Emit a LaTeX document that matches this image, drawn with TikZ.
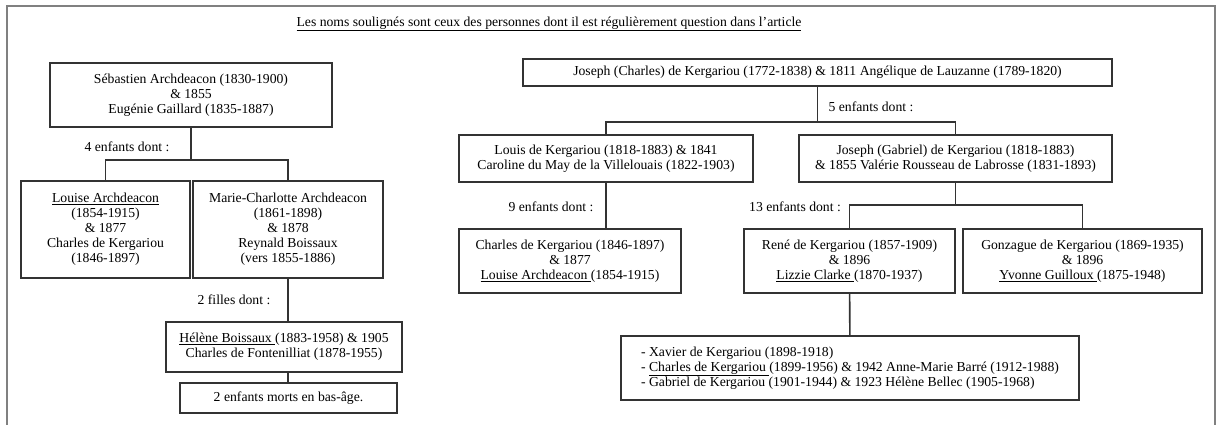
\documentclass[tikz,border=0pt]{standalone}
\usepackage{fontspec}
\setmainfont{Liberation Serif}
\usepackage{tikz}
\usetikzlibrary{calc}

\begin{document}
\begin{tikzpicture}[x=1pt, y=-1pt, line cap=rect, line join=miter, font=\fontsize{13.7}{15}\selectfont,
  box/.style={draw=black!80, line width=1.6pt, align=center, inner sep=0pt, fill=white},
  link/.style={draw=black!80, line width=1.6pt}]
\useasboundingbox (0,0) rectangle (1218,424);
\draw[gray, line width=2pt] (7,430) -- (7,6) -- (1215,6) -- (1215,430);
\node (title) at (549,24) {\underline{Les noms soulignés sont ceux des personnes dont il est régulièrement question dans l’article}};
% Archdeacon side
\node[box, minimum width=282, minimum height=64] (S) at (191,95) {Sébastien Archdeacon (1830-1900)\\ \& 1855\\ Eugénie Gaillard (1835-1887)};
\node[box, minimum width=169, minimum height=97] (L) at (105.5,229.5) {\underline{Louise Archdeacon}\\ (1854-1915)\\ \& 1877\\ Charles de Kergariou\\ (1846-1897)};
\node[box, minimum width=190, minimum height=97] (MC) at (288,229.5) {Marie-Charlotte Archdeacon\\ (1861-1898)\\ \& 1878\\ Reynald Boissaux\\ (vers 1855-1886)};
\node[box, minimum width=236, minimum height=50] (H) at (284,347) {\underline{Hélène Boissaux\ }(1883-1958) \& 1905\\ Charles de Fontenilliat (1878-1955)};
\node[box, minimum width=217, minimum height=30] (E) at (288.5,398) {2 enfants morts en bas-âge.};
\node (n4) at (127,147) {4 enfants dont :};
\node (n2) at (234,300) {2 filles dont :};
\coordinate (sj) at (191,160);
\draw[link] (S) -- (sj); \draw[link] (L.north) |- (sj) -| (MC.north);
\draw[link] (MC.south) -- (MC.south |- H.north);
\draw[link] (MC.south |- H.south) -- (MC.south |- E.north);
% Kergariou side
\node[box, minimum width=589, minimum height=27] (J) at (817.5,72.5) {Joseph (Charles) de Kergariou (1772-1838) \& 1811 Angélique de Lauzanne (1789-1820)};
\node[box, minimum width=294, minimum height=47] (LK) at (606,158.5) {Louis de Kergariou (1818-1883) \& 1841\\ Caroline du May de la Villelouais (1822-1903)};
\node[box, minimum width=313, minimum height=47] (JG) at (955.5,158.5) {Joseph (Gabriel) de Kergariou (1818-1883)\\ \& 1855 Valérie Rousseau de Labrosse (1831-1893)};
\node[box, minimum width=222, minimum height=64] (CK) at (570,261) {Charles de Kergariou (1846-1897)\\ \& 1877\\ \underline{Louise Archdeacon\ }(1854-1915)};
\node[box, minimum width=211, minimum height=64] (RK) at (849.5,261) {René de Kergariou (1857-1909)\\ \& 1896\\ \underline{Lizzie Clarke\ }(1870-1937)};
\node[box, minimum width=239, minimum height=64] (GK) at (1082.5,261) {Gonzague de Kergariou (1869-1935)\\ \& 1896\\ \underline{Yvonne Guilloux\ }(1875-1948)};
\node[box, minimum width=458, minimum height=64, align=left] (X) at (850,368) {- Xavier de Kergariou (1898-1918)\\ - \underline{Charles de Kergariou\ }(1899-1956) \& 1942 Anne-Marie Barré (1912-1988)\\ - Gabriel de Kergariou (1901-1944) \& 1923 Hélène Bellec (1905-1968)};
\node (n5) at (871,107) {5 enfants dont :};
\node (n9) at (551,207) {9 enfants dont :};
\node (n13) at (795,207) {13 enfants dont :};
\coordinate (jj) at (817.5,122); \coordinate (gj) at (955.5,205);
\draw[link] (J) -- (jj); \draw[link] (LK.north) |- (jj) -| (JG.north);
\draw[link] (LK.south) -- (LK.south |- CK.north);
\draw[link] (JG) -- (gj); \draw[link] (RK.north) |- (gj) -| (GK.north);
\draw[link] (RK) -- (X);
\end{tikzpicture}
\end{document}
